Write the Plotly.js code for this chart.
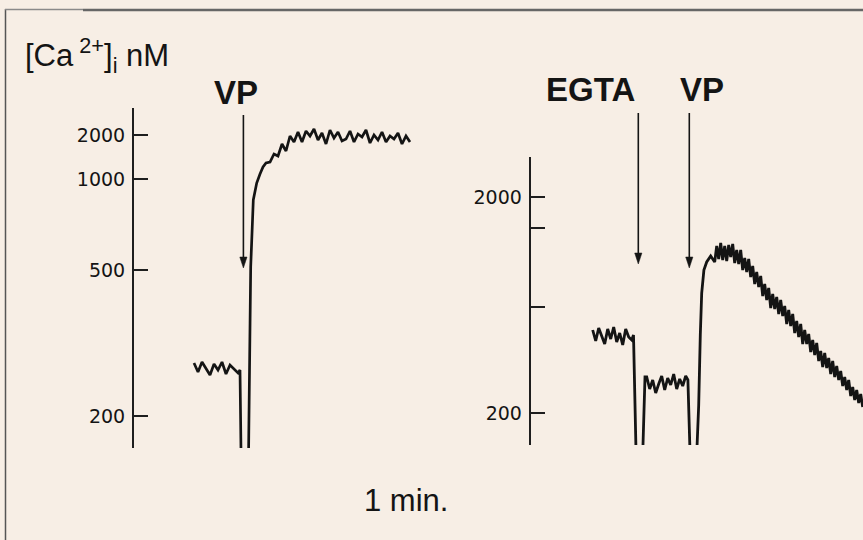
<!DOCTYPE html>
<html>
<head>
<meta charset="utf-8">
<script src="https://cdn.plot.ly/plotly-3.0.1.min.js"></script>
<style>
  html, body { margin: 0; padding: 0; background: #f7eee5; }
  #chart { width: 863px; height: 540px; }
</style>
</head>
<body>
<div id="chart"></div>
<script>
// ---------- DATA ----------
// Left panel: control cell, vasopressin (VP) added. Time in s, signal in trace units (calibrated to [Ca2+]i by tick labels)
const leftTime = [30,32,34,36,38,40,42,44,46,48,50,52,53,53.6,null,
  57.2,57.8,58.35,59.65,61.35,63,64.5,66,
  68,70,72,74,76,78,80,82,
  84,86,88,90,92,94,96,98,100,102,104,106,108,110,112,114,116,118,120,122,124,126,128,130,132,134,136,138];
const leftSignal = [8.5,7.6,8.6,8.0,7.3,8.4,7.8,8.6,7.4,8.3,7.9,7.5,7.8,-2,null,
  -2,10,18.1,24.8,26.5,27.4,28.1,28.5,
  28.6,29.4,29.2,30.4,29.7,31.2,30.6,31.6,
  30.6,31.7,31.2,31.9,30.8,31.5,30.4,31.8,31.0,31.6,30.7,30.9,31.7,30.6,31.4,31.1,31.8,30.5,31.3,30.8,
  31.6,30.6,31.2,30.9,31.5,30.4,31.2,30.6];
const leftCalSignal = [3.2, 17.8, 26.9, 31.3];
const leftCalLabels = ['200', '500', '1000', '2000'];
const leftEventTimes = [54.7];
const leftEventLabels = ['VP'];

// Right panel: EGTA then VP
const rightTime = [31,32.5,34,35.5,37,38.5,40,41.5,43,44.5,46,47.5,49,50.5,51.4,52.7,null,
  56,57.15,58,59.5,61,62.5,64,65.5,67,68.5,70,71.5,73,74.5,76,77.5,78.6,79.7,null,
  83,84,84.8,85.5,86.6,88,90,
  92,93,94,95,96,97,98,99,100,101,102,103,104,105,106,107,108,109,110,111,112,113,114,115,116,117,
  118,119,120,121,122,123,124,125,126,127,128,129,130,131,132,133,134,135,136,137,138,139,140,141,
  142,143,144,145,146,147,148,149,150,151,152,153,154,155,156,157,158,159,160,161,162,163,164,165,166];
const rightSignal = [11.5,10.4,11.7,10.9,10.1,11.6,10.6,11.8,10.3,11.2,10.0,11.6,10.8,10.5,11.0,-1,null,
  -1,6.8,6.8,5.6,6.5,5.2,6.1,6.9,5.5,6.7,6.0,7.1,5.6,6.6,5.9,6.9,6.5,-1,null,
  -1,4,11,15.2,17.5,18.3,18.9,
  18.3,19.9,18.6,20.2,18.5,19.9,18.4,20.0,18.8,20.1,18.2,19.5,18.1,19.5,17.5,18.7,17.3,18.6,16.8,17.9,
  16.1,17.3,15.8,16.9,14.9,16.1,14.5,15.7,13.7,15.1,13.6,14.8,13.1,14.5,12.9,13.9,12.1,13.5,11.9,13.1,
  11.2,12.4,10.8,12.1,10.1,11.5,10.1,11.1,9.3,10.5,9.0,10.2,8.4,9.4,7.8,9.2,7.7,8.7,7.1,8.4,
  6.8,7.9,6.5,7.4,5.9,6.8,5.5,6.5,4.9,5.8,4.5,5.5,4.2,5.1,3.8];
const rightCalSignal = [3.2, 24.8];
const rightCalLabels = ['200', '2000'];
const rightUnlabeledCal = [13.8, 21.7]; // 500 and 1000 nM, ticks without labels
const rightEventTimes = [53.8, 79.3];
const rightEventLabels = ['EGTA', 'VP'];

const yUnitLabel = '[Ca<sup> 2+</sup>]<sub>i</sub> nM';
const timeBarLabel = '1 min.';

// ---------- STYLE ----------
const W = 863, H = 540;
const ink = '#141414';
const FONT = 'Liberation Sans, Arial, Helvetica, sans-serif';
const px = v => v / W;
const py = v => 1 - v / H;

const data = [
  { x: leftTime, y: leftSignal, xaxis: 'x', yaxis: 'y', mode: 'lines', line: { color: ink, width: 2.7 }, hoverinfo: 'skip' },
  { x: rightTime, y: rightSignal, xaxis: 'x2', yaxis: 'y2', mode: 'lines', line: { color: ink, width: 2.8 }, hoverinfo: 'skip' }
];

const yCommon = {
  showline: true, linecolor: '#1e1e1e', linewidth: 2,
  ticks: 'inside', ticklen: 14, tickwidth: 2, tickcolor: '#1e1e1e',
  showgrid: false, zeroline: false, fixedrange: true,
  tickfont: { family: 'DejaVu Sans, sans-serif', size: 19, color: ink },
  ticklabelstandoff: 3
};

const shapes = [
  { type: 'line', xref: 'paper', yref: 'paper', x0: px(5.5), x1: px(5.5), y0: py(9), y1: 0, line: { color: '#555', width: 1.5 } },
  { type: 'line', xref: 'paper', yref: 'paper', x0: px(5), x1: px(83), y0: py(9.5), y1: py(9.5), line: { color: '#8a8a8a', width: 1.5 } },
  { type: 'line', xref: 'paper', yref: 'paper', x0: px(83), x1: 1, y0: py(10), y1: py(10), line: { color: '#666', width: 2.5 } }
];
// event arrows: shaft line + filled head (time on the panel's x axis, vertical placement in paper units)
function eventArrow(t, xref, tipPx, tailPx) {
  const headLen = 11, halfW = 1.8;
  shapes.push({ type: 'line', xref: xref, yref: 'paper', x0: t, x1: t, y0: py(tailPx), y1: py(tipPx - headLen + 1),
    line: { color: ink, width: 1.6 } });
  shapes.push({ type: 'path', xref: xref, yref: 'paper',
    path: `M ${t - halfW} ${py(tipPx - headLen)} L ${t + halfW} ${py(tipPx - headLen)} L ${t} ${py(tipPx)} Z`,
    fillcolor: ink, line: { color: ink, width: 0.5 } });
}
eventArrow(leftEventTimes[0], 'x', 268, 115);
eventArrow(rightEventTimes[0], 'x2', 264, 113);
eventArrow(rightEventTimes[1], 'x2', 268, 113);

const annotations = [];
function label(text, cx, cy, size, weight) {
  annotations.push({
    text: text, x: px(cx), y: py(cy), xref: 'paper', yref: 'paper',
    xanchor: 'center', yanchor: 'middle', showarrow: false,
    font: { family: FONT, size: size, color: ink, weight: weight }
  });
}
label(leftEventLabels[0], 236, 92, 33, 700);
label(rightEventLabels[0], 590, 90, 33, 700);
label(rightEventLabels[1], 702, 90, 33, 700);
label(timeBarLabel, 406, 500, 31, 400);
annotations.push({
  text: yUnitLabel, x: px(23), y: py(55), xref: 'paper', yref: 'paper',
  xanchor: 'left', yanchor: 'middle', showarrow: false,
  font: { family: FONT, size: 31, color: ink }
});

const layout = {
  width: W, height: H,
  margin: { l: 0, r: 0, t: 0, b: 0, pad: 0 },
  paper_bgcolor: '#f7eee5', plot_bgcolor: 'rgba(0,0,0,0)',
  showlegend: false,
  xaxis: { domain: [px(134), px(430)], range: [0, 148], visible: false, fixedrange: true },
  yaxis: Object.assign({}, yCommon, {
    domain: [py(448), py(108)], range: [0, 34], anchor: 'x',
    tickvals: leftCalSignal, ticktext: leftCalLabels
  }),
  xaxis2: { domain: [px(530.7), 1], range: [0, 166.15], visible: false, fixedrange: true, anchor: 'y2' },
  yaxis2: Object.assign({}, yCommon, {
    domain: [py(445), py(157)], range: [0, 28.8], anchor: 'x2',
    tickvals: rightCalSignal, ticktext: rightCalLabels,
    minor: { tickmode: 'array', tickvals: rightUnlabeledCal, ticks: 'inside', ticklen: 14, tickwidth: 2, tickcolor: '#1e1e1e', showgrid: false }
  }),
  annotations: annotations,
  shapes: shapes
};

Plotly.newPlot('chart', data, layout, { displayModeBar: false, staticPlot: true });
</script>
</body>
</html>
